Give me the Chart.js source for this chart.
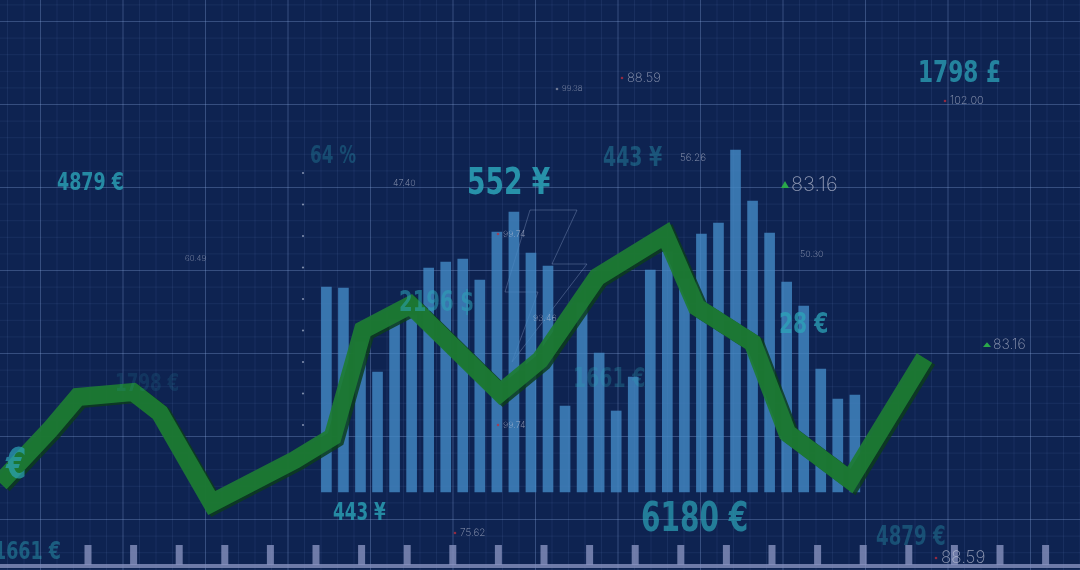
<!DOCTYPE html>
<html>
<head>
<meta charset="utf-8">
<script src="https://cdn.jsdelivr.net/npm/chart.js@4"></script>
<style>
  html, body { margin: 0; padding: 0; background: #0f2452; }
  #wrap { width: 1080px; height: 570px; position: relative; }
</style>
</head>
<body>
<div id="wrap"><canvas id="marketChart"></canvas></div>
<script>
// bar heights (volume), left to right
const barValues = [205, 204, 150, 120, 172, 177, 224, 230, 233, 212, 260, 280, 239, 226, 86, 189,
                   139, 81, 115, 222, 240, 213, 258, 269, 342, 291, 259, 210, 186, 123, 93, 97];
// price line: time (% of session) and level
const lineTimes = [0, 4.6, 7.2, 12.3, 14.8, 19.6, 27.3, 30.8, 33.6, 38.0, 46.3, 50.0, 55.3, 61.6, 64.5, 69.7, 72.9, 78.7, 85.6];
const lineValues = [87, 140, 173, 178, 157, 67, 110, 133, 240, 265, 177, 210, 293, 335, 263, 227, 137, 90, 212];
// floating price tags
const bigTags = ['4879 €', '64 %', '552 ¥', '443 ¥', '1798 £', '2196 $', '28 €', '1661 €', '1798 €', '€', '443 ¥', '6180 €', '4879 €', '1661 €'];
const smallTags = ['88.59', '99.38', '102.00', '47.40', '56.26', '83.16', '60.49', '99.74', '50.30', '93.46', '83.16', '99.74', '75.62', '88.59'];

// empty slots before / after the bar block on the category axis
const padBefore = 18, padAfter = 13;
const slots = padBefore + barValues.length + padAfter;
const barData = Array(padBefore).fill(null).concat(barValues, Array(padAfter).fill(null));
const slotLabels = Array.from({ length: slots }, (_, i) => 'T' + i);

const backdrop = {
  id: 'backdrop',
  beforeDraw(chart) {
    const c = chart.ctx, W = chart.width, H = chart.height;
    c.save();
    c.fillStyle = '#0e2351';
    c.fillRect(0, 0, W, H);
    // minor grid
    c.lineWidth = 1;
    c.strokeStyle = 'rgba(110,140,200,0.12)';
    c.beginPath();
    for (let x = 40 - 16.5 * 3; x < W; x += 16.5) { c.moveTo(x + 0.5, 0); c.lineTo(x + 0.5, H); }
    for (let y = 21 - 16.6; y < H; y += 16.6) { c.moveTo(0, y + 0.5); c.lineTo(W, y + 0.5); }
    c.stroke();
    // major grid
    c.strokeStyle = 'rgba(140,170,220,0.26)';
    c.beginPath();
    for (let x = 40; x < W; x += 82.5) { c.moveTo(x + 0.5, 0); c.lineTo(x + 0.5, H); }
    for (let y = 21; y < H; y += 83) { c.moveTo(0, y + 0.5); c.lineTo(W, y + 0.5); }
    c.stroke();
    // bottom ruler
    c.fillStyle = 'rgba(135,145,190,0.8)';
    c.fillRect(0, 564, W, 4);
    for (let x = 88; x < W; x += 45.6) c.fillRect(x - 3.5, 545, 7, 20);
    // dotted side axis
    c.fillStyle = 'rgba(200,210,230,0.6)';
    for (let y = 173; y <= 430; y += 31.5) { c.beginPath(); c.arc(303, y, 1.1, 0, Math.PI * 2); c.fill(); }
    // faint bolt outline
    c.strokeStyle = 'rgba(170,190,230,0.3)';
    c.lineWidth = 1;
    c.beginPath();
    c.moveTo(530, 210); c.lineTo(577, 210); c.lineTo(552, 264); c.lineTo(587, 264);
    c.lineTo(512, 362); c.lineTo(538, 292); c.lineTo(505, 292); c.closePath();
    c.stroke();
    c.restore();
  }
};

// darker edge under the price line
const lineShade = {
  id: 'lineShade',
  beforeDatasetDraw(chart, args) {
    if (args.index !== 0) return;
    const c = chart.ctx;
    c.save();
    c.shadowColor = 'rgba(12,60,28,0.9)';
    c.shadowOffsetX = 3;
    c.shadowOffsetY = 2;
  },
  afterDatasetDraw(chart, args) {
    if (args.index !== 0) return;
    chart.ctx.restore();
  }
};

const tags = {
  id: 'tags',
  afterDatasetsDraw(chart) {
    const c = chart.ctx;
    const bigPos = [
      [57, 190, 25, 0.8], [310, 163, 24, 0.3], [467, 194, 38, 0.85], [603, 166, 27, 0.38],
      [918, 82, 31, 0.75], [399, 311, 28, 0.55], [779, 333, 29, 0.75], [573, 387, 27, 0.28],
      [115, 391, 24, 0.15], [6, 478, 42, 0.7], [333, 520, 24, 0.8], [641, 531, 40, 0.7],
      [876, 545, 26, 0.35], [-6, 559, 25, 0.45]
    ];
    c.save();
    c.textBaseline = 'alphabetic';
    bigTags.forEach((t, i) => {
      const [x, y, s, a] = bigPos[i];
      c.save();
      c.translate(x, y);
      c.scale(0.7, 1);
      c.font = 'bold ' + s + 'px "DejaVu Sans", sans-serif';
      c.fillStyle = 'rgba(44,164,184,' + a + ')';
      c.fillText(t, 0, 0);
      c.restore();
    });
    const smallPos = [
      [627, 78, 13, 'r'], [562, 89, 8, 'g'], [950, 101, 11, 'r'], [393, 183, 9, ''],
      [680, 158, 10, ''], [791, 185, 20, 'up'], [185, 259, 8, ''], [503, 234, 9, 'r'],
      [800, 254, 9, ''], [533, 318, 9, ''], [993, 345, 14, 'up'], [503, 425, 9, 'r'],
      [460, 533, 10, 'r'], [941, 558, 17, 'r']
    ];
    c.textBaseline = 'middle';
    smallTags.forEach((t, i) => {
      const [x, y, s, m] = smallPos[i];
      c.font = '200 ' + s + 'px Inter, "DejaVu Sans", sans-serif';
      c.fillStyle = 'rgba(195,200,218,0.7)';
      c.fillText(t, x, y);
      if (m === 'up') {
        c.fillStyle = '#2aa84a';
        c.beginPath();
        c.moveTo(x - 10, y + s * 0.15); c.lineTo(x - 6, y - s * 0.2); c.lineTo(x - 2, y + s * 0.15);
        c.closePath(); c.fill();
      } else if (m) {
        c.fillStyle = m === 'r' ? 'rgba(190,45,60,0.75)' : 'rgba(200,200,210,0.5)';
        c.beginPath(); c.arc(x - 5, y, 1.3, 0, Math.PI * 2); c.fill();
      }
    });
    c.restore();
  }
};

new Chart(document.getElementById('marketChart'), {
  data: {
    labels: slotLabels,
    datasets: [{
      type: 'line',
      data: lineTimes.map((t, i) => ({ x: t, y: lineValues[i] })),
      xAxisID: 'xl',
      yAxisID: 'yl',
      borderColor: 'rgba(29,124,52,0.92)',
      borderWidth: 18,
      borderJoinStyle: 'miter',
      pointRadius: 0,
      tension: 0,
      clip: false,
      order: 0
    }, {
      type: 'bar',
      data: barData,
      xAxisID: 'x',
      yAxisID: 'y',
      backgroundColor: 'rgba(68,138,198,0.8)',
      barThickness: 10,
      order: 1
    }]
  },
  options: {
    responsive: true,
    maintainAspectRatio: false,
    animation: false,
    layout: { padding: { left: 6, right: 0, top: 0, bottom: 0 } },
    plugins: { legend: { display: false }, tooltip: { enabled: false } },
    scales: {
      x: { type: 'category', display: false, offset: true },
      y: { display: false, min: -78, max: 492 },
      xl: { type: 'linear', display: false, min: 0.556, max: 100 },
      yl: { display: false, min: 0, max: 570 }
    }
  },
  plugins: [backdrop, lineShade, tags]
});
</script>
</body>
</html>
